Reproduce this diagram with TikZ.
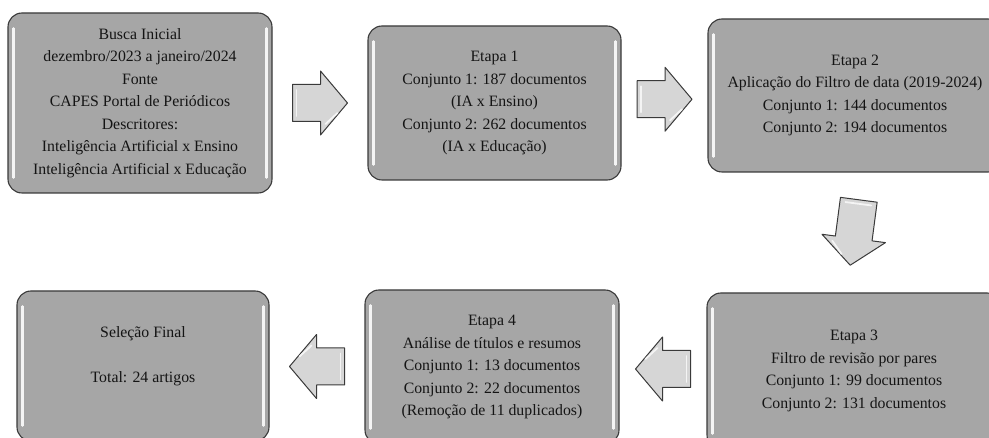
\documentclass[tikz,border=0pt]{standalone}
\usepackage{fontspec}
\setmainfont{Liberation Serif}
\usetikzlibrary{calc}
\definecolor{boxGrey}{HTML}{A6A6A6}
\definecolor{edgeGrey}{HTML}{3A3A3A}
\definecolor{arrowGrey}{HTML}{D6D6D6}
\definecolor{inkBlack}{HTML}{141414}
\definecolor{shineWhite}{HTML}{F4F4F4}

\begin{document}
\begin{tikzpicture}[
  x=1pt, y=-1pt,
  stage/.style={
    rectangle, rounded corners=14pt, draw=edgeGrey, line width=1.1pt, fill=boxGrey,
    align=center, text=inkBlack, font=\fontsize{15.8}{22.5}\selectfont, inner sep=4pt,
  },
  arrowbody/.style={fill=arrowGrey, draw=edgeGrey, line width=1pt, line join=round},
  shine/.style={color=shineWhite, line width=2.6pt, line cap=round},
  pics/blockarr/.style={code={
    \draw[arrowbody] (-#1/2,-18.5) -- (#1/2-27,-18.5) -- (#1/2-27,-32) -- (#1/2,0)
      -- (#1/2-27,32) -- (#1/2-27,18.5) -- (-#1/2,18.5) -- cycle;
    \draw[shine, line width=1.8pt] (-#1/2+4,-13) -- (-#1/2+4,13);
    \draw[shine, line width=1.8pt] (#1/2-22,21) -- (#1/2-10,10);
  }},
  pics/blockarr/.default=55,
]
\useasboundingbox (0,0) rectangle (989,438);
\clip (0,0) rectangle (989,438);

\node[stage, minimum width=264pt, minimum height=180pt] at (140,103) (busca)
  {Busca Inicial\\dezembro/2023 a janeiro/2024\\Fonte\\CAPES Portal de Periódicos\\Descritores:\\Inteligência Artificial x Ensino\\Inteligência Artificial x Educação};
\node[stage, minimum width=253pt, minimum height=154pt] at (494.5,103) (etapa1)
  {Etapa 1\\Conjunto 1: 187 documentos\\(IA x Ensino)\\Conjunto 2: 262 documentos\\(IA x Educação)};
\node[stage, minimum width=294pt, minimum height=153pt] at (855,95.5) (etapa2)
  {Etapa 2\\Aplicação do Filtro de data (2019-2024)\\Conjunto 1: 144 documentos\\Conjunto 2: 194 documentos};

% bottom row, right to left
\node[stage, minimum width=294pt, minimum height=156pt] at (854,371) (etapa3)
  {Etapa 3\\Filtro de revisão por pares\\Conjunto 1: 99 documentos\\Conjunto 2: 131 documentos};
\node[stage, minimum width=254pt, minimum height=154pt] at (492,367) (etapa4)
  {Etapa 4\\Análise de títulos e resumos\\Conjunto 1: 13 documentos\\Conjunto 2: 22 documentos\\(Remoção de 11 duplicados)};
\node[stage, minimum width=252pt, minimum height=150pt] at (143,366) (final)
  {Seleção Final\\ \mbox{}\\Total: 24 artigos\\ \mbox{}};

% bevel highlights
\foreach \n in {busca,etapa1,etapa2,etapa3,etapa4,final} {
  \draw[shine] ($(\n.north west)+(6,16)$) -- ($(\n.south west)+(6,-16)$);
  \draw[shine] ($(\n.north east)+(-6,16)$) -- ($(\n.south east)+(-6,-16)$);
}

\pic at ($(busca.east)!0.5!(etapa1.west)$) {blockarr};
\pic at ($(etapa1.east)!0.5!(etapa2.west)$) {blockarr};
\pic[rotate=-97.5] at ($(etapa2.south)!0.5!(etapa3.north)$) {blockarr=66};
\pic[rotate=180] at ($(etapa3.west)!0.5!(etapa4.east)$) {blockarr};
\pic[rotate=180] at ($(etapa4.west)!0.5!(final.east)$) {blockarr};

\end{tikzpicture}
\end{document}
